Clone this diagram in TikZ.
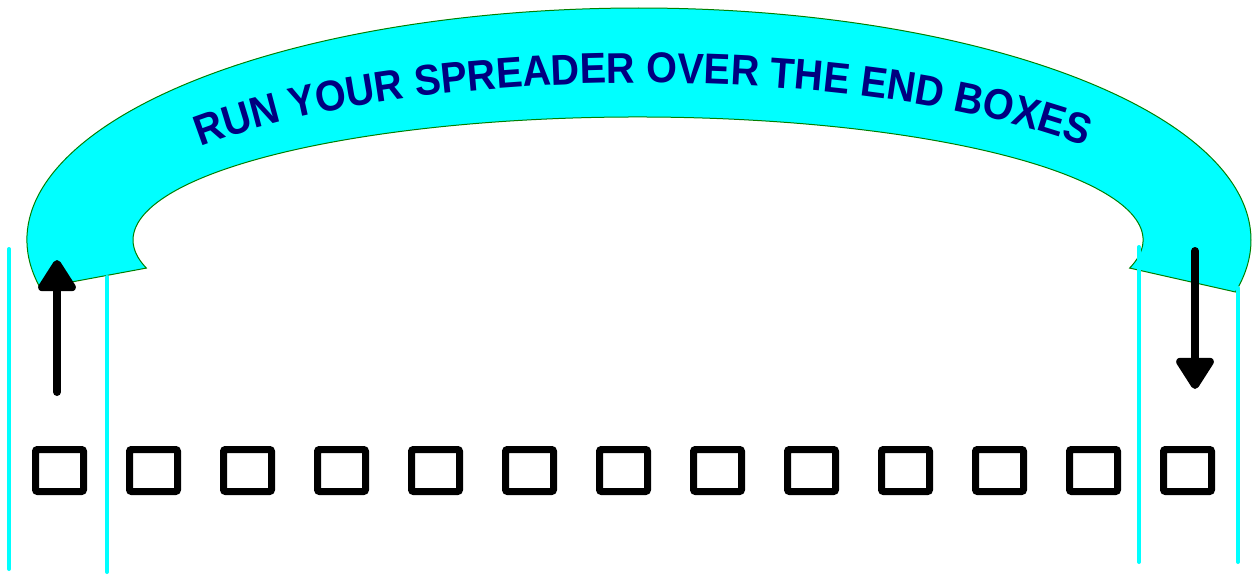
\documentclass[tikz,border=0pt]{standalone}
\usepackage{fontspec}
\setmainfont{Liberation Sans}
\newfontfamily\bandfont{Liberation Sans}[FakeStretch=0.92]
\usetikzlibrary{decorations.text,arrows.meta}
\definecolor{bandcyan}{RGB}{0,255,255}
\definecolor{bandedge}{RGB}{0,128,0}
\definecolor{navytext}{RGB}{0,0,128}
\tikzset{
  guide/.style={draw=bandcyan, line width=4pt, line cap=round},
  boxnode/.style={draw=black, line width=7pt, minimum width=48pt, minimum height=42pt, inner sep=0pt, rounded corners=2pt},
  movearrow/.style={draw=black, line width=8pt, line cap=round, -{Triangle[length=35pt,width=42pt,round]}}
}
\begin{document}
\begin{tikzpicture}[x=1pt,y=1pt]
\useasboundingbox (0,0) rectangle (1252,574);
% spreader band
\filldraw[fill=bandcyan, draw=bandedge, line width=1pt]
  ([shift={(639,334)}]191.9:612 and 232)
  arc[start angle=191.9, end angle=-12.95, x radius=612, y radius=232]
  -- ([shift={(638,334)}]-13.2:505 and 123)
  arc[start angle=-13.2, end angle=193.2, x radius=505, y radius=123]
  -- cycle;
% curved text
\path[decorate, decoration={text along path, text align=center,
  text={|\color{navytext}\bandfont\bfseries\fontsize{43}{50}\selectfont|RUN YOUR SPREADER OVER THE END BOXES}}]
  ([shift={(643,334)}]155:550 and 157)
  arc[start angle=155, end angle=25, x radius=550, y radius=157];
% guide lines
\coordinate (l1t) at (9,325);   \coordinate (l1b) at (9,5);
\coordinate (l2t) at (107,297); \coordinate (l2b) at (107,2);
\coordinate (r1t) at (1139,327); \coordinate (r1b) at (1139,12);
\coordinate (r2t) at (1238,286); \coordinate (r2b) at (1238,12);
\draw[guide] (l1t) -- (l1b);
\draw[guide] (l2t) -- (l2b);
\draw[guide] (r1t) -- (r1b);
\draw[guide] (r2t) -- (r2b);
% arrows
\coordinate (aus) at (57,182); \coordinate (aue) at (57,314);
\coordinate (ads) at (1195,323); \coordinate (ade) at (1195,185);
\draw[movearrow] (aus) -- (aue);
\draw[movearrow] (ads) -- (ade);
% boxes
\foreach \i in {0,...,12} {
  \node[boxnode] (box\i) at ({59.5+94*\i},103.5) {};
}
\end{tikzpicture}
\end{document}
